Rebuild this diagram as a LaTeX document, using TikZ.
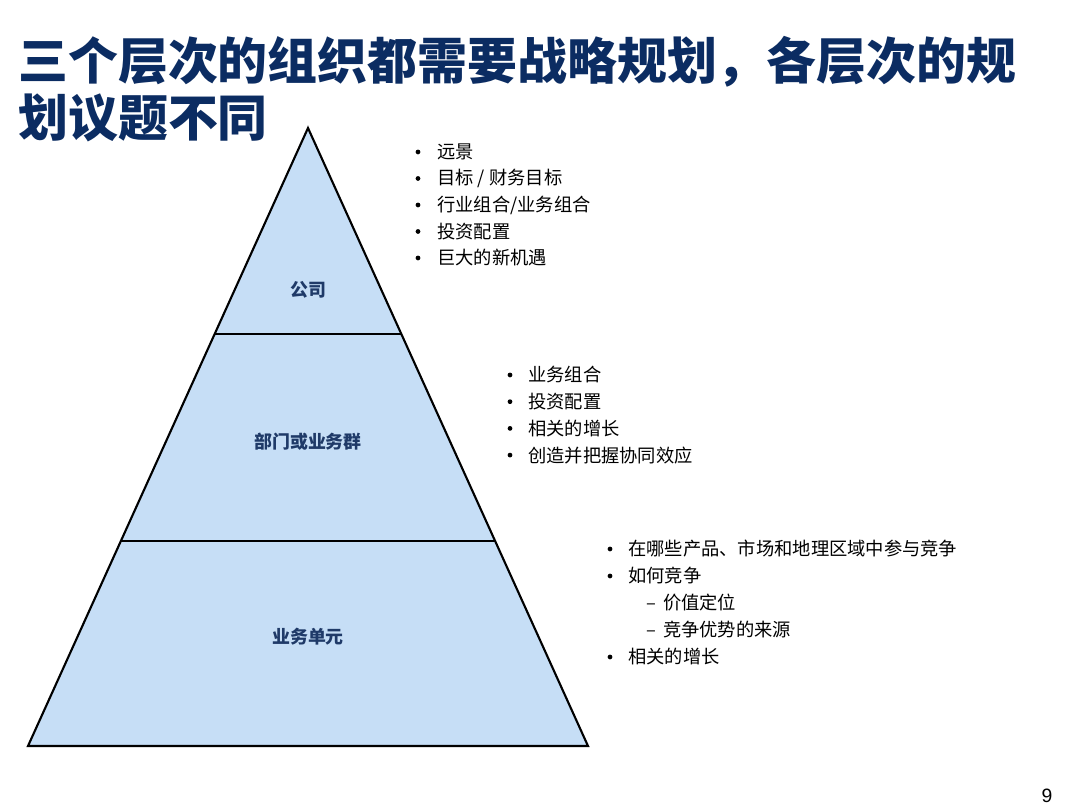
\documentclass[tikz,border=0pt]{standalone}
\usepackage{fontspec}
\setmainfont{Noto Sans CJK SC}
\newfontfamily\numfont{Liberation Sans}
\usepackage{tikz}
\usetikzlibrary{positioning,calc}
\definecolor{titlenavy}{HTML}{0B2C62}
\definecolor{tiernavy}{HTML}{1F3A68}
\definecolor{tierfill}{HTML}{C6DEF6}
\tikzset{
  pg title/.style={anchor=west, font=\fontsize{28.4}{34}\selectfont\bfseries, text=titlenavy, inner sep=0pt},
  pg tier/.style={font=\fontsize{10.2}{12}\selectfont\bfseries, text=tiernavy, inner sep=0pt},
  pg item/.style={anchor=west, font=\fontsize{10.4}{12}\selectfont, inner sep=0pt},
  pg dot/.style={circle, fill=black, inner sep=0pt, minimum size=2.7pt},
  pg line/.style={line width=1.2pt, black, line join=miter},
}

\begin{document}
\begin{tikzpicture}[x=0.02cm, y=-0.02cm]
  \useasboundingbox[fill=white] (0,0) rectangle (1080,810);
  % title, two lines
  \node[pg title] (t1) at (18,62)  {三个层次的组织都需要战略规划，各层次的规};
  \node[pg title] (t2) at (18,118) {划议题不同};
  % the pyramid and its three tiers
  \coordinate (apex) at (308,128);
  \coordinate (bl) at (28,746);
  \coordinate (br) at (588,746);
  \coordinate (l1) at ($(apex)!0.3333!(bl)$);
  \coordinate (r1) at ($(apex)!0.3333!(br)$);
  \coordinate (l2) at ($(apex)!0.6683!(bl)$);
  \coordinate (r2) at ($(apex)!0.6683!(br)$);
  \fill[tierfill] (apex) -- (br) -- (bl) -- cycle;
  \draw[pg line] (l1) -- (r1);
  \draw[pg line] (l2) -- (r2);
  \draw[pg line] (apex) -- (br) -- (bl) -- cycle;
  \node[pg tier] (corp) at (308,290) {公司};
  \node[pg tier] (div)  at (308,442) {部门或业务群};
  \node[pg tier] (bu)   at (308,637) {业务单元};
  % agenda of the company
  \foreach \t [count=\i] in {远景, {目标 / 财务目标}, {行业组合/业务组合}, 投资配置, 巨大的新机遇} {
    \node[pg dot]  (cd\i) at (418,{152+26.5*(\i-1)}) {};
    \node[pg item] (c\i)  at (437,{152+26.5*(\i-1)}) {\t};
  }
  % agenda of the division
  \foreach \t [count=\i] in {业务组合, 投资配置, 相关的增长, 创造并把握协同效应} {
    \node[pg dot]  (dd\i) at (510,{375+26.7*(\i-1)}) {};
    \node[pg item] (d\i)  at (528,{375+26.7*(\i-1)}) {\t};
  }
  % agenda of the business unit
  \node[pg dot]  (bd1) at (610,549) {};
  \node[pg item] (b1)  at (628,549) {在哪些产品、市场和地理区域中参与竞争};
  \node[pg dot]  (bd2) at (610,576) {};
  \node[pg item] (b2)  at (628,576) {如何竞争};
  \node[pg item] (bs1) at (646,603) {–\hspace{4pt}价值定位};
  \node[pg item] (bs2) at (646,630) {–\hspace{4pt}竞争优势的来源};
  \node[pg dot]  (bd3) at (610,657) {};
  \node[pg item] (b3)  at (628,657) {相关的增长};
  % page number
  \node[font=\numfont\fontsize{11}{13}\selectfont, inner sep=0pt] (pgno) at (1047,796) {9};
\end{tikzpicture}
\end{document}
